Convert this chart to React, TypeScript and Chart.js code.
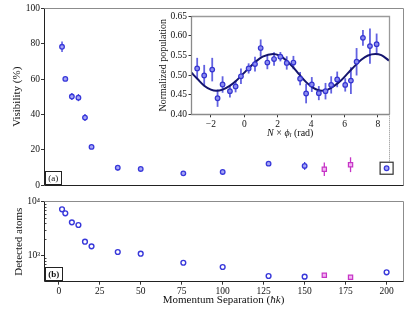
import React, { useEffect, useRef } from 'react';
import { Chart, registerables } from 'chart.js';
Chart.register(...registerables);

// ---------- data ----------
const momentumCircles = [2, 4, 8, 12, 16, 20, 36, 50, 76, 100, 128, 150, 200];
const visibilityCircles = [78.3, 60.1, 50.1, 49.5, 38.2, 21.6, 9.8, 9.1, 6.6, 7.4, 12.1, 10.8, 9.5];
const visibilityCircleErr = [3, 1, 2, 2, 2, 1, 1.6, 0.8, 0.6, 0.6, 1, 2.2, 0.8];
const momentumSquares = [162, 178];
const visibilitySquares = [8.9, 11.5];
const visibilitySquareErr = [3.8, 4.2];
const atomsCircles = [7230, 6100, 4150, 3700, 1815, 1490, 1170, 1090, 741, 618, 421, 409, 493];
const atomsSquares = [434, 398];

const momentumTicks = [0, 25, 50, 75, 100, 125, 150, 175, 200];
const visibilityTicks = [0, 20, 40, 60, 80, 100];
const atomsMajorTicks = [1000, 10000];
const atomsMinorTicks = [400, 500, 600, 700, 800, 900, 2000, 3000, 4000, 5000, 6000, 7000, 8000, 9000];

const insetPhase = [-2.82, -2.4, -1.92, -1.6, -1.3, -0.86, -0.52, -0.2, 0.26, 0.64, 0.98, 1.38, 1.78, 2.16, 2.54, 2.94, 3.34, 3.7, 4.04, 4.46, 4.86, 5.2, 5.56, 6.04, 6.38, 6.72, 7.1, 7.52, 7.92];
const insetPop = [0.517, 0.499, 0.514, 0.441, 0.476, 0.459, 0.471, 0.497, 0.517, 0.528, 0.569, 0.532, 0.541, 0.547, 0.531, 0.532, 0.491, 0.453, 0.476, 0.454, 0.459, 0.475, 0.489, 0.475, 0.486, 0.534, 0.595, 0.574, 0.579];
const insetErr = [0.027, 0.027, 0.03, 0.022, 0.021, 0.016, 0.015, 0.02, 0.013, 0.019, 0.022, 0.017, 0.017, 0.012, 0.017, 0.017, 0.017, 0.025, 0.019, 0.018, 0.021, 0.022, 0.02, 0.017, 0.034, 0.035, 0.02, 0.045, 0.027];
const fitPhase = [-3.16, -2.8, -2.4, -2.0, -1.68, -1.3, -0.9, -0.5, -0.1, 0.3, 0.7, 1.1, 1.72, 2.1, 2.5, 2.9, 3.3, 3.7, 4.1, 4.64, 5.0, 5.4, 5.8, 6.2, 6.6, 7.0, 7.4, 7.84, 8.2, 8.66];
const fitPop = [0.506, 0.49, 0.473, 0.463, 0.46, 0.463, 0.472, 0.485, 0.502, 0.519, 0.535, 0.547, 0.554, 0.55, 0.538, 0.521, 0.501, 0.482, 0.468, 0.46, 0.463, 0.473, 0.487, 0.505, 0.523, 0.539, 0.55, 0.554, 0.551, 0.537];
const insetXTicks = [-2, 0, 2, 4, 6, 8];
const insetYTicks = [0.4, 0.45, 0.5, 0.55, 0.6, 0.65];

// ---------- styles / layout ----------
const SERIF = '"Liberation Serif", "DejaVu Serif", serif';
const TICK_FONT = { family: SERIF, size: 9.5 };
const BLUE = '#3838da';
const BLUE_FILL = '#a6a6f4';
const MAG = '#c634c6';
const MAG_FILL = '#f2b4f2';
const INSET = { left: 140, top: 8, width: 260, height: 137 };
const INSET_AREA = { right: 389, bottom: 114.3 };

function setTicks(values: number[]) {
  return (scale: any) => {
    scale.ticks = values.map((v) => ({ value: v }));
  };
}

function px(v: number) {
  return Math.floor(v) + 0.5;
}

function drawFrame(ctx: CanvasRenderingContext2D, a: any, light: string, dark: string, lw = 1) {
  ctx.save();
  ctx.lineWidth = lw;
  ctx.strokeStyle = light;
  ctx.beginPath();
  ctx.moveTo(px(a.left), px(a.top));
  ctx.lineTo(px(a.right), px(a.top));
  ctx.lineTo(px(a.right), px(a.bottom));
  ctx.stroke();
  ctx.strokeStyle = dark;
  ctx.beginPath();
  ctx.moveTo(px(a.left), px(a.top));
  ctx.lineTo(px(a.left), px(a.bottom));
  ctx.lineTo(px(a.right), px(a.bottom));
  ctx.stroke();
  ctx.restore();
}

function drawRich(ctx: CanvasRenderingContext2D, parts: { text: string; font: string; dy?: number }[], cx: number, cy: number) {
  ctx.save();
  const widths = parts.map((p) => {
    ctx.font = p.font;
    return ctx.measureText(p.text).width;
  });
  const total = widths.reduce((s, w) => s + w, 0);
  let x = cx - total / 2;
  ctx.textBaseline = 'middle';
  ctx.textAlign = 'left';
  ctx.fillStyle = '#111';
  parts.forEach((p, i) => {
    ctx.font = p.font;
    ctx.fillText(p.text, x, cy + (p.dy || 0));
    x += widths[i];
  });
  ctx.restore();
}

function labelBox(ctx: CanvasRenderingContext2D, x: number, y: number, w: number, h: number, text: string, weight: string) {
  ctx.save();
  ctx.fillStyle = '#fff';
  ctx.fillRect(x, y, w, h);
  ctx.strokeStyle = '#222';
  ctx.lineWidth = 1;
  ctx.strokeRect(px(x), px(y), Math.round(w), Math.round(h));
  ctx.fillStyle = '#111';
  ctx.font = `${weight} 9px ${SERIF}`;
  ctx.textAlign = 'center';
  ctx.textBaseline = 'middle';
  ctx.fillText(text, x + w / 2 + 0.5, y + h / 2 + 0.5);
  ctx.restore();
}

const errorBarPlugin = {
  id: 'errorBars',
  beforeDatasetsDraw(chart: any) {
    const ctx = chart.ctx;
    const xs = chart.scales.x;
    const ys = chart.scales.y;
    chart.data.datasets.forEach((ds: any) => {
      if (!ds.errorBars) return;
      ctx.save();
      ctx.strokeStyle = ds.errorColor;
      ctx.lineWidth = ds.errorWidth;
      ds.data.forEach((p: any, i: number) => {
        const e = ds.errorBars[i];
        const x = xs.getPixelForValue(p.x);
        ctx.beginPath();
        ctx.moveTo(x, ys.getPixelForValue(p.y - e));
        ctx.lineTo(x, ys.getPixelForValue(p.y + e));
        ctx.stroke();
      });
      ctx.restore();
    });
  },
};

function yTitle(text: string, size: number, pad: number) {
  return { display: true, text, color: '#111', font: { family: SERIF, size }, padding: { top: pad, bottom: 0 } };
}

const hiddenGridTicks = { display: true, drawOnChartArea: false, drawTicks: true, tickLength: 3, tickColor: '#333' };

// ---------- charts ----------
function makeTop(canvas: HTMLCanvasElement) {
  const decor = {
    id: 'topDecor',
    afterDraw(chart: any) {
      const ctx = chart.ctx as CanvasRenderingContext2D;
      const a = chart.chartArea;
      drawFrame(ctx, a, '#8c8c8c', '#222');
      labelBox(ctx, a.left + 1, a.bottom - 14, 15.7, 13.3, '(a)', 'normal');
      const meta = chart.getDatasetMeta(0);
      const el = meta.data[meta.data.length - 1];
      ctx.save();
      ctx.strokeStyle = '#333';
      ctx.lineWidth = 1.2;
      ctx.strokeRect(el.x - 6.5, el.y - 6, 13, 12);
      ctx.strokeStyle = '#8a8a8a';
      ctx.lineWidth = 1;
      ctx.setLineDash([1, 1]);
      ctx.beginPath();
      ctx.moveTo(px(INSET_AREA.right), INSET_AREA.bottom);
      ctx.lineTo(px(INSET_AREA.right), el.y - 6);
      ctx.stroke();
      ctx.restore();
    },
  };
  return new Chart(canvas, {
    type: 'scatter',
    data: {
      datasets: [
        {
          data: momentumCircles.map((x, i) => ({ x, y: visibilityCircles[i] })),
          errorBars: visibilityCircleErr,
          errorColor: BLUE,
          errorWidth: 1.3,
          pointStyle: 'circle',
          pointRadius: 2.3,
          pointBorderWidth: 1.3,
          pointBorderColor: BLUE,
          pointBackgroundColor: BLUE_FILL,
        } as any,
        {
          data: momentumSquares.map((x, i) => ({ x, y: visibilitySquares[i] })),
          errorBars: visibilitySquareErr,
          errorColor: MAG,
          errorWidth: 1.3,
          pointStyle: 'rect',
          pointRadius: 3,
          pointBorderWidth: 1.2,
          pointBorderColor: MAG,
          pointBackgroundColor: MAG_FILL,
        } as any,
      ],
    },
    options: {
      responsive: false,
      animation: false,
      events: [],
      layout: { padding: { left: 0, right: 12, top: 8.5, bottom: 10 } },
      plugins: { legend: { display: false }, tooltip: { enabled: false } },
      scales: {
        x: { type: 'linear', min: -9, max: 210, display: false },
        y: {
          type: 'linear',
          min: 0,
          max: 100,
          afterBuildTicks: setTicks(visibilityTicks),
          afterFit: (s: any) => { s.width = 44; },
          grid: hiddenGridTicks,
          border: { display: false },
          ticks: { color: '#111', font: TICK_FONT, padding: 1 },
          title: yTitle('Visibility (%)', 11, 11),
        },
      },
    } as any,
    plugins: [errorBarPlugin, decor],
  });
}

function makeBottom(canvas: HTMLCanvasElement) {
  const decor = {
    id: 'botDecor',
    afterDraw(chart: any) {
      const ctx = chart.ctx as CanvasRenderingContext2D;
      const a = chart.chartArea;
      const ys = chart.scales.y;
      ctx.save();
      ctx.strokeStyle = '#444';
      ctx.lineWidth = 1;
      atomsMinorTicks.forEach((v) => {
        const y = Math.round(ys.getPixelForValue(v)) + 0.5;
        ctx.beginPath();
        ctx.moveTo(a.left, y);
        ctx.lineTo(a.left + 2.5, y);
        ctx.stroke();
      });
      ctx.restore();
      drawFrame(ctx, a, '#8c8c8c', '#222');
      labelBox(ctx, a.left + 1, a.bottom - 14, 16.7, 12.7, '(b)', 'bold');
      const f = `11px ${SERIF}`;
      drawRich(ctx, [
        { text: 'Momentum Separation (', font: f },
        { text: 'ħk', font: `italic ${f}` },
        { text: ')', font: f },
      ], (a.left + a.right) / 2, a.bottom + 18.5);
    },
  };
  return new Chart(canvas, {
    type: 'scatter',
    data: {
      datasets: [
        {
          data: momentumCircles.map((x, i) => ({ x, y: atomsCircles[i] })),
          pointStyle: 'circle',
          pointRadius: 2.4,
          pointBorderWidth: 1.4,
          pointBorderColor: BLUE,
          pointBackgroundColor: '#ffffff',
        } as any,
        {
          data: momentumSquares.map((x, i) => ({ x, y: atomsSquares[i] })),
          pointStyle: 'rect',
          pointRadius: 3,
          pointBorderWidth: 1.2,
          pointBorderColor: MAG,
          pointBackgroundColor: MAG_FILL,
        } as any,
      ],
    },
    options: {
      responsive: false,
      animation: false,
      events: [],
      layout: { padding: { left: 0, right: 12, top: 11.7, bottom: 0 } },
      plugins: { legend: { display: false }, tooltip: { enabled: false } },
      scales: {
        x: {
          type: 'linear',
          min: -9,
          max: 210,
          afterBuildTicks: setTicks(momentumTicks),
          afterFit: (s: any) => { s.height = 33.3; },
          grid: hiddenGridTicks,
          border: { display: false },
          ticks: { color: '#111', font: TICK_FONT, padding: 1, maxRotation: 0 },
        },
        y: {
          type: 'logarithmic',
          min: 330,
          max: 10000,
          afterBuildTicks: setTicks(atomsMajorTicks),
          afterFit: (s: any) => { s.width = 44; },
          grid: hiddenGridTicks,
          border: { display: false },
          ticks: {
            color: '#111',
            font: TICK_FONT,
            padding: 1,
            callback: (v: number) => (v >= 10000 ? '10⁴' : '10³'),
          },
          title: yTitle('Detected atoms', 11, 12.4),
        },
      },
    } as any,
    plugins: [decor],
  });
}

function makeInset(canvas: HTMLCanvasElement) {
  const decor = {
    id: 'insetDecor',
    beforeDraw(chart: any) {
      const ctx = chart.ctx as CanvasRenderingContext2D;
      const a = chart.chartArea;
      ctx.save();
      ctx.fillStyle = '#fff';
      ctx.fillRect(a.left, a.top, a.right - a.left, a.bottom - a.top);
      ctx.restore();
    },
    afterDraw(chart: any) {
      const ctx = chart.ctx as CanvasRenderingContext2D;
      const a = chart.chartArea;
      drawFrame(ctx, a, '#9a9a9a', '#8a8a8a', 1.3);
      const f = `10px ${SERIF}`;
      drawRich(ctx, [
        { text: 'N', font: `italic ${f}` },
        { text: ' × ', font: f },
        { text: 'ϕ', font: `italic ${f}` },
        { text: 'l', font: `italic 7px ${SERIF}`, dy: 2 },
        { text: ' (rad)', font: f },
      ], (a.left + a.right) / 2, a.bottom + 19);
    },
  };
  return new Chart(canvas, {
    type: 'scatter',
    data: {
      datasets: [
        {
          data: insetPhase.map((x, i) => ({ x, y: insetPop[i] })),
          errorBars: insetErr,
          errorColor: 'rgba(70,70,220,0.85)',
          errorWidth: 1.8,
          pointStyle: 'circle',
          pointRadius: 2.3,
          pointBorderWidth: 1.2,
          pointBorderColor: '#3434d0',
          pointBackgroundColor: '#8c8cf0',
        } as any,
        {
          data: fitPhase.map((x, i) => ({ x, y: fitPop[i] })),
          showLine: true,
          borderColor: '#14146e',
          borderWidth: 2,
          pointRadius: 0,
          cubicInterpolationMode: 'monotone',
        } as any,
      ],
    },
    options: {
      responsive: false,
      animation: false,
      events: [],
      layout: { padding: { left: 0, right: 11, top: 8.3, bottom: 0 } },
      plugins: { legend: { display: false }, tooltip: { enabled: false } },
      scales: {
        x: {
          type: 'linear',
          min: -3.16,
          max: 8.66,
          afterBuildTicks: setTicks(insetXTicks),
          afterFit: (s: any) => { s.height = 30.7; },
          grid: hiddenGridTicks,
          border: { display: false },
          ticks: {
            color: '#111',
            font: TICK_FONT,
            padding: 1,
            maxRotation: 0,
            callback: (v: number) => (v < 0 ? '−' + Math.abs(v) : String(v)),
          },
        },
        y: {
          type: 'linear',
          min: 0.4,
          max: 0.65,
          afterBuildTicks: setTicks(insetYTicks),
          afterFit: (s: any) => { s.width = 51.5; },
          grid: hiddenGridTicks,
          border: { display: false },
          ticks: { color: '#111', font: TICK_FONT, padding: 1.5, callback: (v: number) => v.toFixed(2) },
          title: yTitle('Normalized population', 10, 17.5),
        },
      },
    } as any,
    plugins: [errorBarPlugin, decor],
  });
}

export default function App() {
  const topRef = useRef<HTMLCanvasElement>(null);
  const botRef = useRef<HTMLCanvasElement>(null);
  const insetRef = useRef<HTMLCanvasElement>(null);
  useEffect(() => {
    const charts = [makeTop(topRef.current!), makeBottom(botRef.current!), makeInset(insetRef.current!)];
    return () => charts.forEach((c) => c.destroy());
  }, []);
  return (
    <div style={{ position: 'absolute', left: 0, top: 0, width: 415, height: 315, background: '#fff' }}>
      <canvas ref={topRef} width={415} height={195} style={{ position: 'absolute', left: 0, top: 0 }} />
      <canvas ref={botRef} width={415} height={125} style={{ position: 'absolute', left: 0, top: 190 }} />
      <canvas
        ref={insetRef}
        width={INSET.width}
        height={INSET.height}
        style={{ position: 'absolute', left: INSET.left, top: INSET.top }}
      />
    </div>
  );
}
